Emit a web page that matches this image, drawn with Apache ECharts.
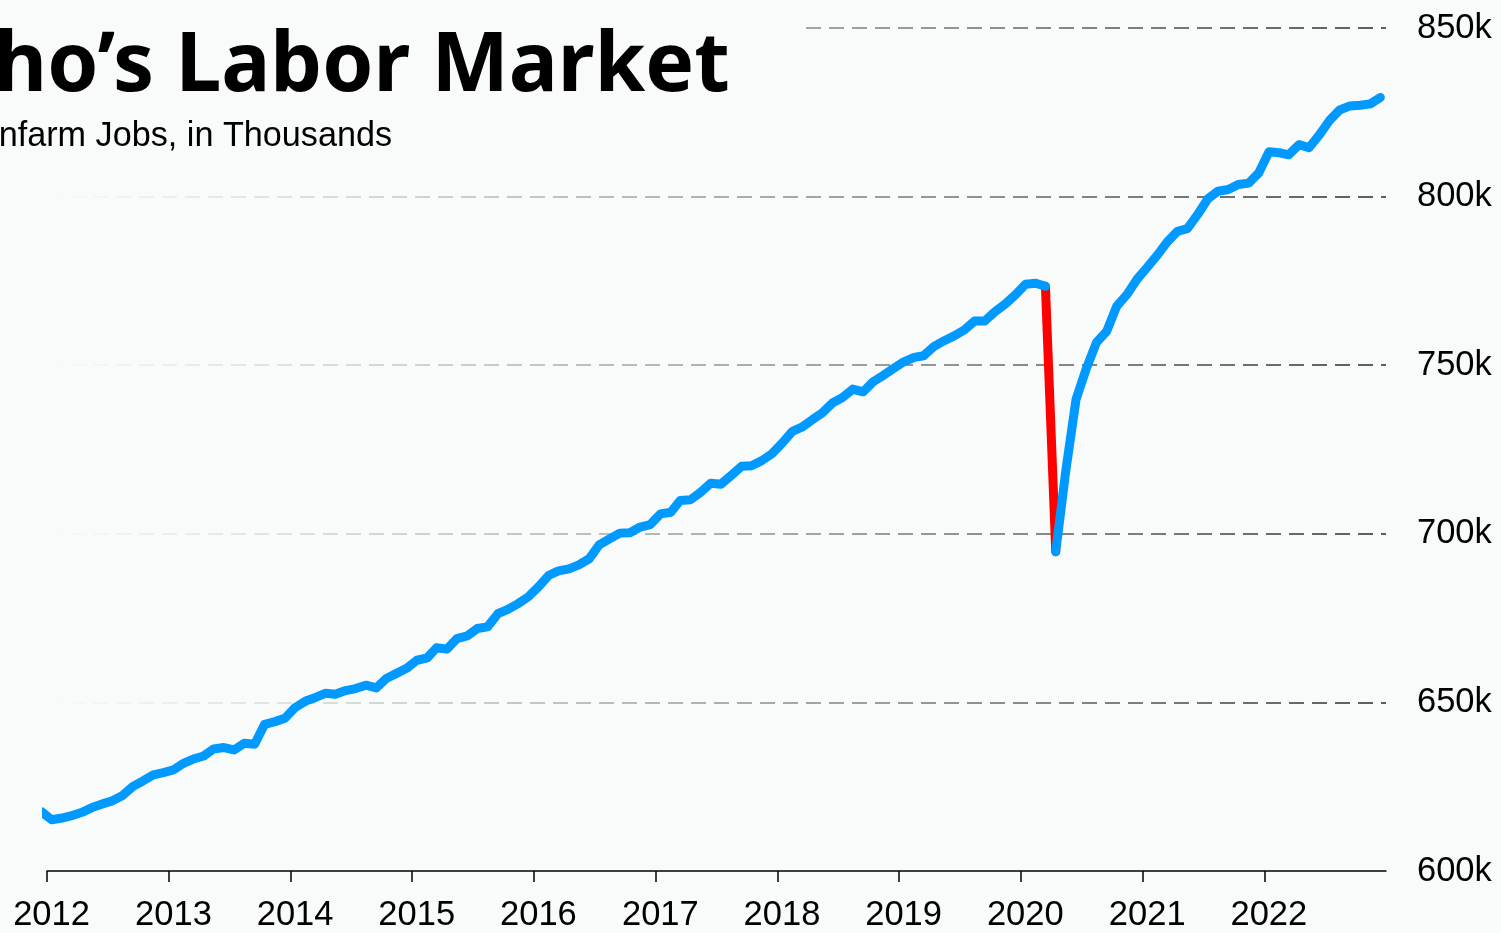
<!DOCTYPE html>
<html>
<head>
<meta charset="utf-8">
<script src="https://cdn.jsdelivr.net/npm/echarts@6/dist/echarts.min.js"></script>
<style>
html, body { margin: 0; padding: 0; background: #f9fbfb; }
#echarts { width: 1501px; height: 933px; }
</style>
</head>
<body>
<div id="echarts"></div>
<script>
// Idaho nonfarm jobs, thousands, monthly from Dec 2011 (first point is clipped by the axis)
var jobs = [
    617.6,
    615.2, 615.7, 616.4, 617.4, 618.8, 619.9, 620.8, 622.4, 625.1, 626.7, 628.5, 629.2, // 2012
    630.0, 632.0, 633.2, 634.1, 636.2, 636.6, 635.9, 637.9, 637.6, 643.5, 644.3, 645.3, // 2013
    648.5, 650.4, 651.4, 652.7, 652.4, 653.5, 654.1, 655.1, 654.3, 657.1, 658.6, 660.1, // 2014
    662.5, 663.2, 666.2, 665.8, 668.9, 669.7, 671.9, 672.4, 676.3, 677.6, 679.3, 681.3, // 2015
    684.3, 687.7, 689.0, 689.6, 690.8, 692.6, 696.7, 698.5, 700.2, 700.3, 702.0, 702.7, // 2016
    705.9, 706.4, 709.9, 710.1, 712.3, 715.0, 714.7, 717.3, 720.0, 720.2, 721.7, 723.7, // 2017
    726.9, 730.4, 731.6, 733.8, 735.8, 738.8, 740.4, 742.9, 742.1, 745.1, 747.0, 749.0, // 2018
    751.0, 752.3, 752.8, 755.5, 757.2, 758.7, 760.4, 763.1, 763.1, 765.8, 768.1, 770.8, // 2019
    774.0, 774.3, 773.4, 694.7, 718.6, 739.9, 748.8, 756.7, 760.1, 767.5, 771.0, 775.5, // 2020
    779.1, 782.8, 786.5, 789.7, 790.5, 794.7, 799.3, 801.6, 802.1, 803.6, 804.0, 807.0, // 2021
    813.3, 813.0, 812.4, 815.4, 814.5, 818.3, 822.5, 825.7, 826.9, 827.1, 827.5, 829.4  // 2022
];
var firstYear = 2011, firstMonth = 12;
var dropMonth = '2020-03-15';
var yMin = 600, yMax = 850, yStep = 50;
var xStart = '2012-01-01', xEnd = '2023-01-01';

var dates = [];
for (var i = 0; i < jobs.length; i++) {
    var n = firstMonth - 1 + i;
    var y = firstYear + Math.floor(n / 12);
    var m = n % 12 + 1;
    dates.push(y + '-' + (m < 10 ? '0' + m : m) + '-15');
}
var points = dates.map(function (d, i) { return [d, jobs[i]]; });
var k = dates.indexOf(dropMonth);
var before = points.slice(0, k + 1);
var drop = points.slice(k, k + 2);
var after = points.slice(k + 1);

var myChart = echarts.init(document.getElementById('echarts'));
var YEAR = 365 * 24 * 3600 * 1000;

var lineBase = {
    type: 'line',
    showSymbol: false,
    symbol: 'none',
    clip: true,
    animation: false,
    lineStyle: { width: 9, cap: 'round', join: 'round' }
};

var option = {
    backgroundColor: '#f9fbfb',
    animation: false,
    title: [
        {
            text: 'Idaho’s Labor Market',
            left: -139,
            top: 0,
            padding: [27, 72, 8, 0],
            backgroundColor: '#f9fbfb',
            textStyle: {
                fontFamily: 'Noto Sans',
                fontWeight: 'bold',
                fontSize: 82,
                color: '#000'
            }
        },
        {
            text: 'Nonfarm Jobs, in Thousands',
            left: -45,
            top: 120,
            padding: 0,
            textStyle: {
                fontFamily: 'Liberation Sans',
                fontWeight: 'normal',
                fontSize: 34.2,
                color: '#000'
            }
        }
    ],
    grid: { left: 47, right: 115, top: 28, bottom: 60 },
    xAxis: {
        type: 'time',
        min: xStart,
        max: xEnd,
        minInterval: YEAR,
        maxInterval: YEAR + 24 * 3600 * 1000,
        axisLine: { show: true, lineStyle: { color: '#000', width: 1.5 } },
        axisTick: { show: true, length: 11, lineStyle: { color: '#000', width: 1.5 } },
        splitLine: { show: false },
        axisLabel: {
            margin: 27,
            padding: [0, 0, 0, 9],
            fontFamily: 'Liberation Sans',
            fontSize: 34.5,
            color: '#000',
            formatter: function (val) {
                var yr = new Date(val).getFullYear();
                return yr >= 2023 ? '' : String(yr);
            }
        }
    },
    yAxis: {
        type: 'value',
        position: 'right',
        min: yMin,
        max: yMax,
        interval: yStep,
        axisLine: { show: false },
        axisTick: { show: false },
        axisLabel: {
            margin: 31,
            padding: [8, 0, 0, 0],
            fontFamily: 'Liberation Sans',
            fontSize: 34.5,
            color: '#000',
            formatter: '{value}k'
        },
        splitLine: {
            show: true,
            showMinLine: false,
            lineStyle: {
                width: 1.5,
                type: [15, 8],
                color: new echarts.graphic.LinearGradient(0, 0, 1, 0, [
                    { offset: 0, color: 'rgba(60,60,60,0)' },
                    { offset: 1, color: 'rgba(40,40,40,1)' }
                ])
            }
        }
    },
    series: [
        Object.assign({}, lineBase, {
            name: 'drop', data: drop, z: 2,
            lineStyle: Object.assign({}, lineBase.lineStyle, { color: '#ff0000' })
        }),
        Object.assign({}, lineBase, {
            name: 'before', data: before, z: 3,
            lineStyle: Object.assign({}, lineBase.lineStyle, { color: '#0099ff' })
        }),
        Object.assign({}, lineBase, {
            name: 'after', data: after, z: 3,
            lineStyle: Object.assign({}, lineBase.lineStyle, { color: '#0099ff' })
        })
    ]
};

myChart.setOption(option);
</script>
</body>
</html>
